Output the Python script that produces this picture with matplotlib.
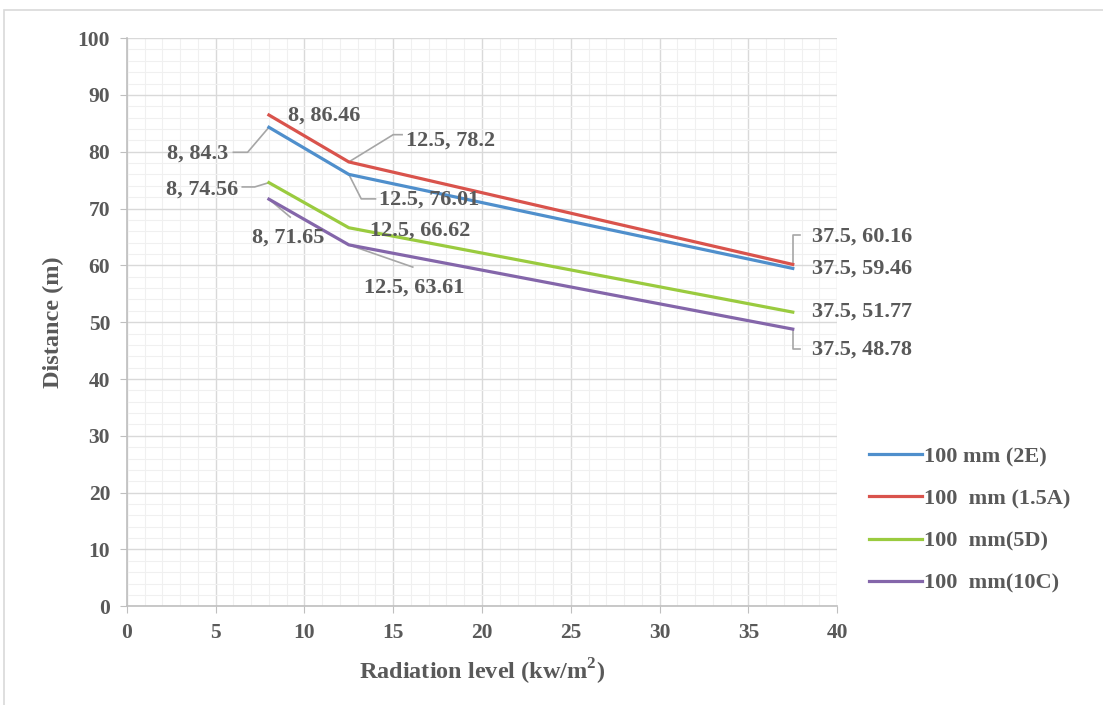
import matplotlib
matplotlib.use("Agg")
import matplotlib.pyplot as plt
import matplotlib.patches as patches
from matplotlib.ticker import MultipleLocator

# data
radiation = [8, 12.5, 37.5]
series_names = ["100 mm (2E)", "100  mm (1.5A)", "100  mm(5D)", "100  mm(10C)"]
dist_2e = [84.3, 76.01, 59.46]
dist_15a = [86.46, 78.2, 60.16]
dist_5d = [74.56, 66.62, 51.77]
dist_10c = [71.65, 63.61, 48.78]
colors = ["#4f8fcc", "#d9534c", "#9acb3f", "#8466aa"]

plt.rcParams['font.family'] = ['Liberation Serif', 'DejaVu Serif']
plt.rcParams['font.weight'] = 'bold'
plt.rcParams['mathtext.fontset'] = 'custom'
plt.rcParams['mathtext.bf'] = 'Liberation Serif:bold'
txt_color = "#595959"

fig = plt.figure(figsize=(11.03, 7.05), dpi=100)
ax = fig.add_axes([0.115, 0.140, 0.644, 0.806])

# light frame (only left/top visible in the reference)
fig.patches.append(patches.Rectangle((0.0036, -0.1), 1.2, 1.086, transform=fig.transFigure,
                                     fill=False, edgecolor="#d9d9d9", linewidth=1.2))

all_series = [dist_2e, dist_15a, dist_5d, dist_10c]
for name, ys, c in zip(series_names, all_series, colors):
    ax.plot(radiation, ys, color=c, linewidth=2.3, label=name, zorder=3)

ax.set_xlim(0, 40)
ax.set_ylim(0, 100)
ax.xaxis.set_major_locator(MultipleLocator(5))
ax.xaxis.set_minor_locator(MultipleLocator(1))
ax.yaxis.set_major_locator(MultipleLocator(10))
ax.yaxis.set_minor_locator(MultipleLocator(2))
ax.grid(which="major", color="#d9d9d9", linewidth=1.0)
ax.grid(which="minor", color="#f0f0f0", linewidth=0.8)
ax.set_axisbelow(True)

for s in ["top", "right"]:
    ax.spines[s].set_visible(False)
for s in ["left", "bottom"]:
    ax.spines[s].set_color("#bfbfbf")
    ax.spines[s].set_linewidth(1.2)
ax.tick_params(which="major", length=5, color="#bfbfbf", labelsize=15.5, labelcolor=txt_color, pad=7)
ax.tick_params(which="minor", length=0)
for lab in ax.get_xticklabels() + ax.get_yticklabels():
    lab.set_fontweight("bold")

ax.set_xlabel("Radiation level (kw/m$^\\mathbf{2}$)", fontsize=17.5, color=txt_color, fontweight="bold")
ax.set_ylabel("Distance (m)", fontsize=17.5, color=txt_color, fontweight="bold")
ax.xaxis.set_label_coords(0.5, -0.088)
ax.yaxis.set_label_coords(-0.088, 0.5)

# data labels with leader lines
lead = dict(color="#a6a6a6", linewidth=1.2)
lab_kw = dict(fontsize=16, color=txt_color, fontweight="bold", va="center", zorder=4)

def label(text, x, y, tx, ty, ha="left", path=None):
    ax.text(tx, ty, text, ha=ha, **lab_kw)
    if path is not None:
        xs = [x] + [p[0] for p in path]
        ys = [y] + [p[1] for p in path]
        ax.plot(xs, ys, **lead, zorder=2)

x0, x1, x2 = radiation
label("8, 86.46", x0, dist_15a[0], 9.1, 86.3)
label("8, 84.3", x0, dist_2e[0], 5.7, 79.6, ha="right", path=[(6.8, 79.9), (6.0, 79.9)])
label("12.5, 78.2", x1, dist_15a[1], 15.7, 82.0, path=[(15.0, 83.0), (15.5, 83.0)])
label("12.5, 76.01", x1, dist_2e[1], 14.2, 71.6, path=[(13.2, 71.7), (14.0, 71.7)])
label("8, 74.56", x0, dist_5d[0], 6.25, 73.4, ha="right", path=[(7.2, 73.8), (6.5, 73.8)])
label("8, 71.65", x0, dist_10c[0], 9.1, 64.8, ha="center", path=[(9.2, 68.5)])
label("12.5, 66.62", x1, dist_5d[1], 13.7, 66.2)
label("12.5, 63.61", x1, dist_10c[1], 16.2, 56.0, ha="center", path=[(16.1, 59.7)])
label("37.5, 60.16", x2, dist_15a[2], 38.6, 65.1, path=[(37.5, 65.3), (37.9, 65.3)])
label("37.5, 59.46", x2, dist_2e[2], 38.6, 59.5)
label("37.5, 51.77", x2, dist_5d[2], 38.6, 51.8)
label("37.5, 48.78", x2, dist_10c[2], 38.6, 45.1, path=[(37.5, 45.3), (37.9, 45.3)])

leg = fig.legend(loc="upper left", bbox_to_anchor=(0.770, 0.395), frameon=False,
                 fontsize=16, labelspacing=0.97, handlelength=2.35, handletextpad=0.12)
for t in leg.get_texts():
    t.set_color(txt_color)
    t.set_fontweight("bold")

fig.savefig("out.png", dpi=100)
